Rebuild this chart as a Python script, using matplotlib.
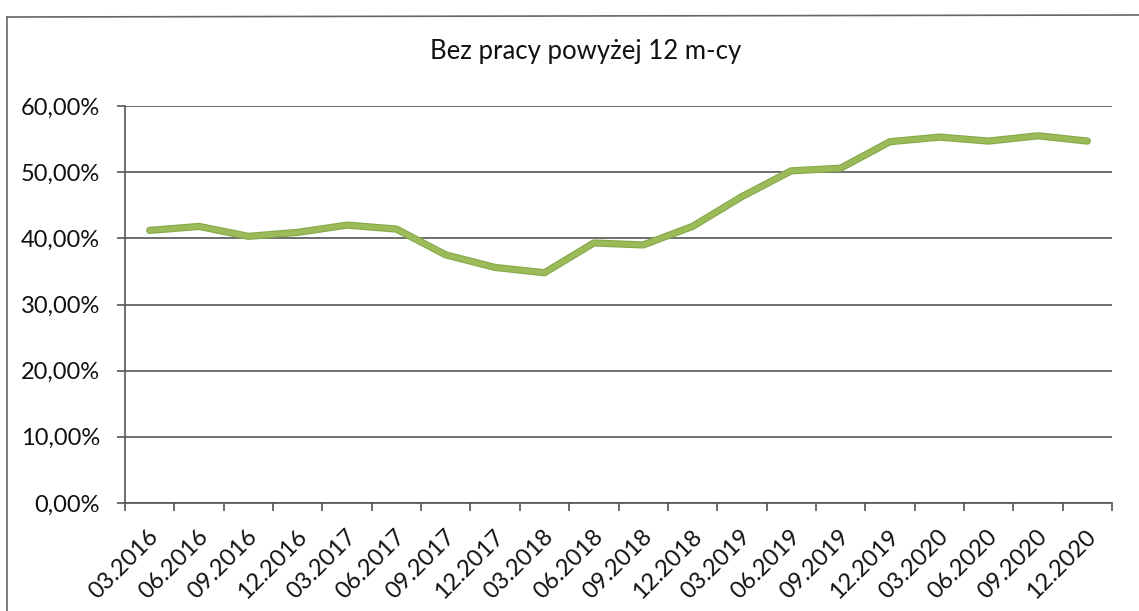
import matplotlib
matplotlib.use("Agg")
import matplotlib.pyplot as plt
import matplotlib.patheffects as pe
from matplotlib.ticker import FixedLocator, FuncFormatter
from matplotlib.lines import Line2D
from matplotlib.transforms import ScaledTranslation

title = "Bez pracy powyżej 12 m-cy"
categories = ["03.2016", "06.2016", "09.2016", "12.2016", "03.2017", "06.2017",
              "09.2017", "12.2017", "03.2018", "06.2018", "09.2018", "12.2018",
              "03.2019", "06.2019", "09.2019", "12.2019", "03.2020", "06.2020",
              "09.2020", "12.2020"]
values = [41.2, 41.8, 40.3, 40.9, 42.0, 41.4, 37.5, 35.6, 34.8, 39.3,
          39.0, 41.8, 46.3, 50.2, 50.6, 54.6, 55.3, 54.7, 55.5, 54.7]
yticks = [0, 10, 20, 30, 40, 50, 60]

plt.rcParams['font.family'] = ['Lato', 'DejaVu Sans']

W, H = 1139, 611
fig = plt.figure(figsize=(W / 100, H / 100), dpi=100)
fig.patch.set_facecolor('white')

left, right, top, bottom = 125, 1112, 106, 503
ax = fig.add_axes([left / W, 1 - bottom / H, (right - left) / W, (bottom - top) / H])

n = len(categories)
xs = list(range(n))
ax.plot(xs, values, color='#9bbb59', lw=3.6, solid_capstyle='round',
        solid_joinstyle='round',
        path_effects=[pe.Stroke(linewidth=5.2, foreground='#86a84a'), pe.Normal()],
        zorder=3)

ax.set_xlim(-0.5, n - 0.5)
ax.set_ylim(0, 60)

ax.yaxis.set_major_locator(FixedLocator(yticks))
ax.yaxis.set_major_formatter(FuncFormatter(lambda v, p: f"{v:.2f}%".replace('.', ',')))
ax.grid(axis='y', color='#555555', lw=1.2, zorder=1)
ax.set_axisbelow(True)

# category boundaries as ticks, labels at centers
ax.set_xticks([i - 0.5 for i in range(n + 1)])
ax.set_xticklabels([])
ax.set_xticks(xs, minor=True)
ax.set_xticklabels(categories, minor=True, rotation=45, ha='right', va='center',
                   rotation_mode='anchor', fontsize=17, color='#111111')
ax.tick_params(axis='x', which='minor', length=0, pad=16)
ax.tick_params(axis='x', which='major', length=6, width=1.2, color='#555555', direction='out')
ax.tick_params(axis='y', length=6, width=1.2, color='#555555', labelsize=17,
               labelcolor='#111111', pad=12)

for s in ['top', 'right']:
    ax.spines[s].set_visible(False)
ax.spines['left'].set_color('#555555')
ax.spines['left'].set_linewidth(1.2)
ax.spines['bottom'].set_color('#555555')
ax.spines['bottom'].set_linewidth(1.2)

fig.text(586 / W, 1 - 51 / H, title, ha='center', va='center', fontsize=18.5, color='#111111')

# outer chart border (scanned frame)
fig.add_artist(Line2D([7 / W, 7 / W], [0, 1 - 17 / H], transform=fig.transFigure,
                      color='#666666', lw=1.2))
fig.add_artist(Line2D([7 / W, 1], [1 - 17 / H, 1 - 15 / H], transform=fig.transFigure,
                      color='#666666', lw=1.2))

# shift rotated category labels (Excel-like placement)
offset = ScaledTranslation(4 / 72, -6 / 72, fig.dpi_scale_trans)
for t in ax.xaxis.get_minor_ticks():
    t.label1.set_transform(t.label1.get_transform() + offset)

fig.savefig('out.png', dpi=100, facecolor='white')
